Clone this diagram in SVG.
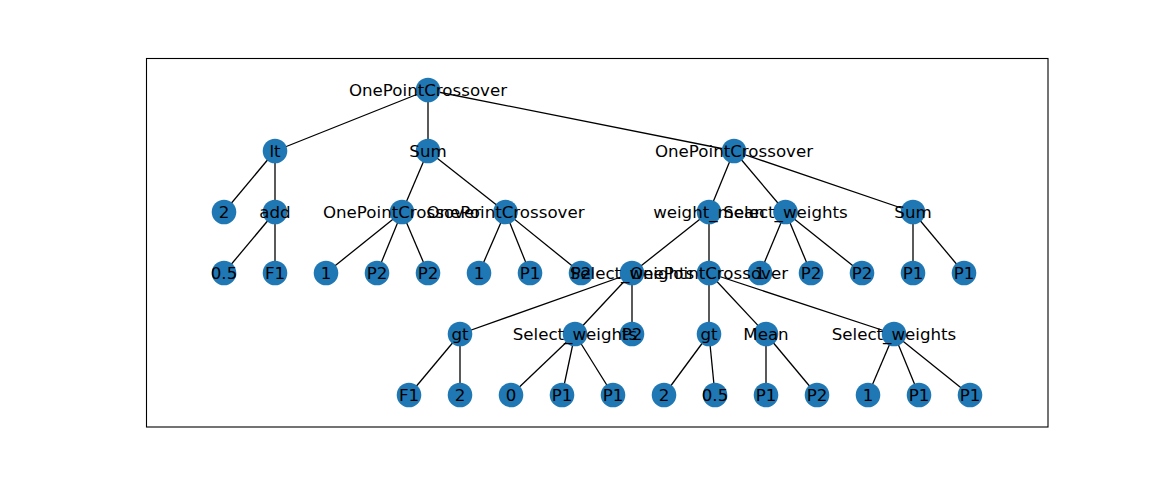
<svg xmlns="http://www.w3.org/2000/svg" width="1164" height="480" viewBox="0 0 1164 480">
<style>
.e{stroke:#000;stroke-width:1.3;fill:none}
.n circle{fill:#1f77b4}
.n text{font-family:"DejaVu Sans",sans-serif;font-size:16.67px;fill:#000;text-anchor:middle}
</style>
<rect width="1164" height="480" fill="#fff"/>
<rect x="146.5" y="58.5" width="901.5" height="368.5" fill="none" stroke="#000" stroke-width="1.1"/>
<g id="edges" class="e">
<line x1="428" y1="90" x2="275" y2="151"/>
<line x1="428" y1="90" x2="428" y2="151"/>
<line x1="428" y1="90" x2="734" y2="151"/>
<line x1="275" y1="151" x2="224" y2="212"/>
<line x1="275" y1="151" x2="275" y2="212"/>
<line x1="275" y1="212" x2="224" y2="273"/>
<line x1="275" y1="212" x2="275" y2="273"/>
<line x1="428" y1="151" x2="402" y2="212"/>
<line x1="428" y1="151" x2="505.5" y2="212"/>
<line x1="402" y1="212" x2="326" y2="273"/>
<line x1="402" y1="212" x2="377" y2="273"/>
<line x1="402" y1="212" x2="428" y2="273"/>
<line x1="505.5" y1="212" x2="479" y2="273"/>
<line x1="505.5" y1="212" x2="530" y2="273"/>
<line x1="505.5" y1="212" x2="581" y2="273"/>
<line x1="734" y1="151" x2="709" y2="212"/>
<line x1="734" y1="151" x2="785.5" y2="212"/>
<line x1="734" y1="151" x2="913" y2="212"/>
<line x1="709" y1="212" x2="632" y2="273"/>
<line x1="709" y1="212" x2="709" y2="273"/>
<line x1="785.5" y1="212" x2="760" y2="273"/>
<line x1="785.5" y1="212" x2="811" y2="273"/>
<line x1="785.5" y1="212" x2="862" y2="273"/>
<line x1="913" y1="212" x2="913" y2="273"/>
<line x1="913" y1="212" x2="964" y2="273"/>
<line x1="632" y1="273" x2="460" y2="334"/>
<line x1="632" y1="273" x2="575" y2="334"/>
<line x1="632" y1="273" x2="632" y2="334"/>
<line x1="709" y1="273" x2="709" y2="334"/>
<line x1="709" y1="273" x2="766" y2="334"/>
<line x1="709" y1="273" x2="894" y2="334"/>
<line x1="460" y1="334" x2="409" y2="395"/>
<line x1="460" y1="334" x2="460" y2="395"/>
<line x1="575" y1="334" x2="511" y2="395"/>
<line x1="575" y1="334" x2="562" y2="395"/>
<line x1="575" y1="334" x2="613" y2="395"/>
<line x1="709" y1="334" x2="664" y2="395"/>
<line x1="709" y1="334" x2="715" y2="395"/>
<line x1="766" y1="334" x2="766" y2="395"/>
<line x1="766" y1="334" x2="817" y2="395"/>
<line x1="894" y1="334" x2="868" y2="395"/>
<line x1="894" y1="334" x2="919" y2="395"/>
<line x1="894" y1="334" x2="970" y2="395"/>
</g>
<g id="nodes" class="n">
<g id="n2"><circle cx="224" cy="212" r="12.3"/><text x="224" y="218">2</text></g>
<g id="n4"><circle cx="224" cy="273" r="12.3"/><text x="224" y="279">0.5</text></g>
<g id="n5"><circle cx="275" cy="273" r="12.3"/><text x="275" y="279">F1</text></g>
<g id="n1"><circle cx="275" cy="151" r="12.3"/><text x="275" y="157">lt</text></g>
<g id="n3"><circle cx="275" cy="212" r="12.3"/><text x="275" y="218">add</text></g>
<g id="n6"><circle cx="428" cy="151" r="12.3"/><text x="428" y="157">Sum</text></g>
<g id="n8"><circle cx="326" cy="273" r="12.3"/><text x="326" y="279">1</text></g>
<g id="n9"><circle cx="377" cy="273" r="12.3"/><text x="377" y="279">P2</text></g>
<g id="n10"><circle cx="428" cy="273" r="12.3"/><text x="428" y="279">P2</text></g>
<g id="n12"><circle cx="479" cy="273" r="12.3"/><text x="479" y="279">1</text></g>
<g id="n13"><circle cx="530" cy="273" r="12.3"/><text x="530" y="279">P1</text></g>
<g id="n14"><circle cx="581" cy="273" r="12.3"/><text x="581" y="279">P2</text></g>
<g id="n38"><circle cx="760" cy="273" r="12.3"/><text x="760" y="279">1</text></g>
<g id="n39"><circle cx="811" cy="273" r="12.3"/><text x="811" y="279">P2</text></g>
<g id="n40"><circle cx="862" cy="273" r="12.3"/><text x="862" y="279">P2</text></g>
<g id="n42"><circle cx="913" cy="273" r="12.3"/><text x="913" y="279">P1</text></g>
<g id="n43"><circle cx="964" cy="273" r="12.3"/><text x="964" y="279">P1</text></g>
<g id="n41"><circle cx="913" cy="212" r="12.3"/><text x="913" y="218">Sum</text></g>
<g id="n18"><circle cx="460" cy="334" r="12.3"/><text x="460" y="340">gt</text></g>
<g id="n25"><circle cx="632" cy="334" r="12.3"/><text x="632" y="340">P2</text></g>
<g id="n27"><circle cx="709" cy="334" r="12.3"/><text x="709" y="340">gt</text></g>
<g id="n30"><circle cx="766" cy="334" r="12.3"/><text x="766" y="340">Mean</text></g>
<g id="n19"><circle cx="409" cy="395" r="12.3"/><text x="409" y="401">F1</text></g>
<g id="n20"><circle cx="460" cy="395" r="12.3"/><text x="460" y="401">2</text></g>
<g id="n22"><circle cx="511" cy="395" r="12.3"/><text x="511" y="401">0</text></g>
<g id="n23"><circle cx="562" cy="395" r="12.3"/><text x="562" y="401">P1</text></g>
<g id="n24"><circle cx="613" cy="395" r="12.3"/><text x="613" y="401">P1</text></g>
<g id="n28"><circle cx="664" cy="395" r="12.3"/><text x="664" y="401">2</text></g>
<g id="n29"><circle cx="715" cy="395" r="12.3"/><text x="715" y="401">0.5</text></g>
<g id="n31"><circle cx="766" cy="395" r="12.3"/><text x="766" y="401">P1</text></g>
<g id="n32"><circle cx="817" cy="395" r="12.3"/><text x="817" y="401">P2</text></g>
<g id="n34"><circle cx="868" cy="395" r="12.3"/><text x="868" y="401">1</text></g>
<g id="n35"><circle cx="919" cy="395" r="12.3"/><text x="919" y="401">P1</text></g>
<g id="n36"><circle cx="970" cy="395" r="12.3"/><text x="970" y="401">P1</text></g>
<g id="n0"><circle cx="428" cy="90" r="12.3"/><text x="428" y="96">OnePointCrossover</text></g>
<g id="n15"><circle cx="734" cy="151" r="12.3"/><text x="734" y="157">OnePointCrossover</text></g>
<g id="n7"><circle cx="402" cy="212" r="12.3"/><text x="402" y="218">OnePointCrossover</text></g>
<g id="n11"><circle cx="505.5" cy="212" r="12.3"/><text x="505.5" y="218">OnePointCrossover</text></g>
<g id="n16"><circle cx="709" cy="212" r="12.3"/><text x="709" y="218">weight_mean</text></g>
<g id="n37"><circle cx="785.5" cy="212" r="12.3"/><text x="785.5" y="218">Select_weights</text></g>
<g id="n17"><circle cx="632" cy="273" r="12.3"/><text x="632" y="279">Select_weights</text></g>
<g id="n26"><circle cx="709" cy="273" r="12.3"/><text x="709" y="279">OnePointCrossover</text></g>
<g id="n21"><circle cx="575" cy="334" r="12.3"/><text x="575" y="340">Select_weights</text></g>
<g id="n33"><circle cx="894" cy="334" r="12.3"/><text x="894" y="340">Select_weights</text></g>
</g>
</svg>
